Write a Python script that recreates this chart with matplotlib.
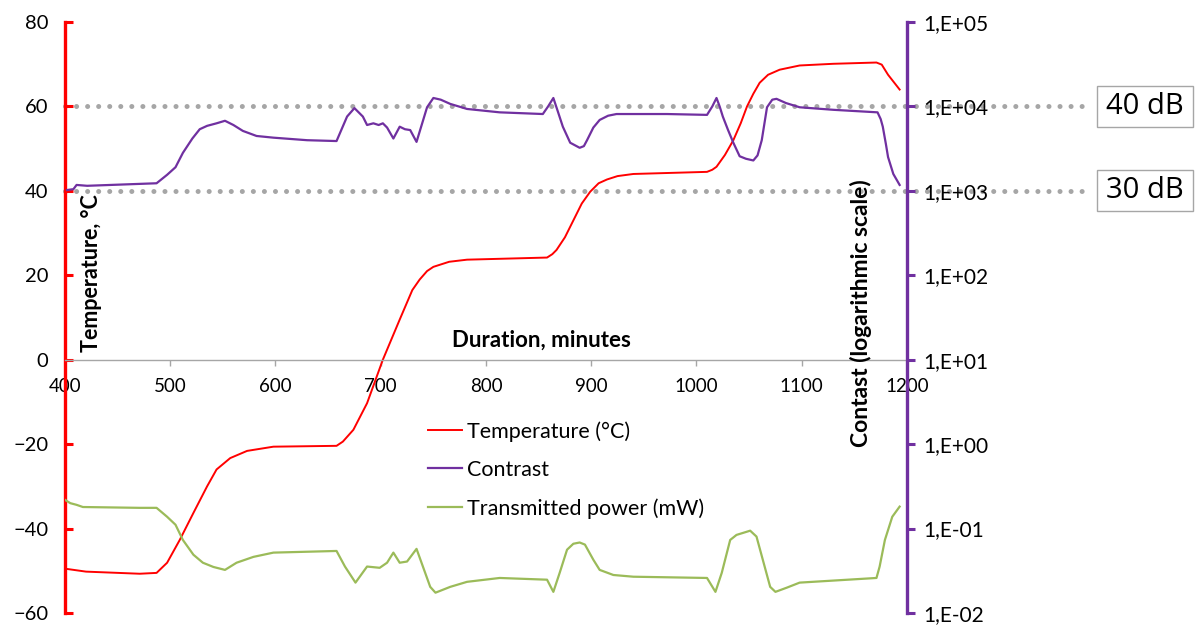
import numpy as np
import matplotlib
matplotlib.use("Agg")
import matplotlib.pyplot as plt
from matplotlib.patches import Rectangle
from matplotlib.ticker import FixedLocator, FuncFormatter

plt.rcParams['font.family'] = ['Lato', 'DejaVu Sans']

# temperature (left axis, °C)
temp_t = [400, 420, 471, 487, 497, 509, 522, 535, 544, 557, 573, 598, 658, 664,
          674, 687, 702, 718, 730, 737, 744, 750, 765, 782, 858, 863, 867, 875,
          883, 891, 899, 907, 915, 925, 940, 1010, 1015, 1019, 1027, 1035, 1042,
          1048, 1054, 1060, 1068, 1079, 1098, 1130, 1171, 1176, 1182, 1193]
temp_v = [-49.5, -50.2, -50.7, -50.5, -48.1, -42.7, -36.3, -30.0, -26.0, -23.3,
          -21.6, -20.6, -20.4, -19.4, -16.6, -10.3, 0.0, 9.5, 16.5, 19.0, 21.0,
          22.0, 23.2, 23.7, 24.2, 25.0, 26.0, 29.0, 33.0, 37.0, 39.8, 41.8, 42.7,
          43.5, 44.0, 44.5, 45.0, 45.7, 48.5, 52.0, 56.0, 60.0, 63.0, 65.6, 67.5,
          68.7, 69.7, 70.1, 70.4, 69.9, 67.5, 64.0]

# contrast (right axis, log)
con_t = [402, 408, 411, 421, 487, 497, 505, 512, 521, 528, 535, 544, 552, 560,
         569, 582, 598, 630, 658, 668, 675, 683, 687, 693, 698, 702, 706, 712,
         718, 723, 728, 734, 744, 750, 757, 766, 782, 813, 854, 859, 864, 868,
         873, 880, 889, 893, 896, 902, 908, 916, 924, 972, 1010, 1015, 1019,
         1022, 1025, 1030, 1035, 1041, 1047, 1054, 1058, 1062, 1067, 1072, 1076,
         1085, 1098, 1130, 1172, 1175, 1177, 1180, 1182, 1187, 1193]
con_v = [1023, 1047, 1175, 1148, 1230, 1549, 1905, 2818, 4169, 5370, 5888, 6310,
         6761, 6026, 5129, 4467, 4266, 3981, 3890, 7586, 9550, 7586, 6026, 6310,
         6026, 6310, 5623, 4169, 5754, 5370, 5248, 3802, 9772, 12589, 12023,
         10715, 9333, 8511, 8128, 10000, 12589, 8913, 5754, 3715, 3236, 3388,
         3981, 5623, 6918, 7762, 8128, 8128, 7943, 10000, 12589, 10000, 7586,
         5248, 3715, 2570, 2399, 2291, 2630, 3981, 9772, 12023, 12303, 10965,
         9772, 9120, 8511, 7079, 5754, 3548, 2512, 1585, 1175]

# transmitted power (mW, right axis)
pow_t = [400, 405, 411, 417, 471, 487, 497, 505, 512, 522, 531, 541, 552, 563,
         579, 598, 658, 666, 676, 687, 699, 706, 712, 718, 725, 734, 747, 752,
         766, 782, 813, 858, 864, 870, 877, 883, 889, 894, 902, 908, 921, 940,
         1010, 1018, 1024, 1032, 1038, 1051, 1057, 1063, 1070, 1075, 1086, 1098,
         1171, 1174, 1179, 1186, 1193]
pow_v = [0.219, 0.200, 0.191, 0.180, 0.176, 0.176, 0.138, 0.111, 0.0733, 0.049,
         0.0394, 0.0351, 0.0324, 0.0394, 0.0462, 0.0519, 0.0543, 0.0355, 0.0229,
         0.0355, 0.0343, 0.0394, 0.0519, 0.0394, 0.0407, 0.0575, 0.0204, 0.0174,
         0.0204, 0.0234, 0.0260, 0.0248, 0.0178, 0.0299, 0.0562, 0.0661, 0.0684,
         0.0646, 0.0427, 0.0324, 0.0282, 0.0269, 0.0260, 0.0178, 0.0299, 0.0733,
         0.0841, 0.0944, 0.0804, 0.0427, 0.0204, 0.0178, 0.0200, 0.0229, 0.0260,
         0.0355, 0.0733, 0.138, 0.182]

x_ticks = [400, 500, 600, 700, 800, 900, 1000, 1100, 1200]
left_ticks = [-60, -40, -20, 0, 20, 40, 60, 80]
right_ticks = [1e-2, 1e-1, 1e0, 1e1, 1e2, 1e3, 1e4, 1e5]
db_lines = [60, 40]
db_labels = ["40 dB", "30 dB"]

RED = "#FF0000"
PURPLE = "#7030A0"
GREEN = "#9BBB59"
GREY = "#A6A6A6"

fig = plt.figure(figsize=(11.95, 6.25), dpi=100)
ax = fig.add_axes([65 / 1195, 1 - 613 / 625, 842 / 1195, 591 / 625])
ax2 = ax.twinx()

l1, = ax.plot(temp_t, temp_v, color=RED, lw=1.4, label="Temperature (°C)")
l2, = ax2.plot(con_t, con_v, color=PURPLE, lw=1.6, label="Contrast")
l3, = ax2.plot(pow_t, pow_v, color=GREEN, lw=1.6, label="Transmitted power (mW)")

ax.set_xlim(400, 1200)
ax.set_ylim(-60, 80)
ax2.set_yscale("log")
ax2.set_ylim(1e-2, 1e5)

# dotted reference lines going past the right axis
for yv in db_lines:
    ax.axhline(yv, xmin=0, xmax=(1090 - 65) / 842, color=GREY, lw=3.6,
               linestyle=(0, (0.01, 2.2)), dash_capstyle="round", clip_on=False,
               zorder=0)

# spines
ax.spines["top"].set_visible(False)
ax2.spines["top"].set_visible(False)
ax2.spines["left"].set_visible(False)
ax2.spines["bottom"].set_visible(False)
ax.spines["right"].set_visible(False)
ax.spines["left"].set_color(RED)
ax.spines["left"].set_linewidth(2.4)
ax2.spines["right"].set_color(PURPLE)
ax2.spines["right"].set_linewidth(2.4)
ax.spines["bottom"].set_position(("data", 0))
ax.spines["bottom"].set_color(GREY)
ax.spines["bottom"].set_linewidth(1.0)

ax.set_xticks(x_ticks)
ax.set_yticks(left_ticks)
ax.tick_params(axis="x", direction="out", length=4, width=1, color=GREY,
               labelsize=13.5, pad=9)
ax.tick_params(axis="y", direction="in", length=6, width=2.2, color=RED,
               labelsize=14.5, pad=12)
ax2.yaxis.set_major_locator(FixedLocator(right_ticks))
ax2.yaxis.set_minor_locator(FixedLocator([]))
ax2.yaxis.set_major_formatter(
    FuncFormatter(lambda v, p: "1,E{:+03d}".format(int(round(np.log10(v))))))
ax2.tick_params(axis="y", direction="out", length=6, width=2.2, color=PURPLE,
                labelsize=15, pad=6)

ax.text(0.032, 0.575, "Temperature, °C", transform=ax.transAxes, rotation=90,
        ha="center", va="center", fontsize=15.5, fontweight="bold")
ax.text(853, 4.7, "Duration, minutes", ha="center", va="center", fontsize=16,
        fontweight="bold")
ax.text(0.945, 0.508, "Contast (logarithmic scale)", transform=ax.transAxes,
        rotation=90, ha="center", va="center", fontsize=16.5, fontweight="bold")

leg = ax.legend(handles=[l1, l2, l3], loc="upper left",
                bbox_to_anchor=(428 / 1195, 1 - 421 / 625),
                bbox_transform=fig.transFigure, frameon=False, fontsize=15.5,
                handlelength=1.6, handletextpad=0.2, labelspacing=0.85,
                borderpad=0, borderaxespad=0)

# dB boxes
for yv, lab in zip(db_lines, db_labels):
    ypix = ax.transData.transform((400, yv))[1]
    yf = ypix / fig.bbox.height
    w, h = 96 / 1195, 41 / 625
    fig.patches.append(Rectangle((1097 / 1195, yf - h / 2), w, h,
                                 transform=fig.transFigure, fill=False,
                                 edgecolor=GREY, lw=1.0))
    fig.text(1145 / 1195, yf, lab, ha="center", va="center", fontsize=21,
             family=["Open Sans", "DejaVu Sans"])

fig.savefig("out.png", dpi=100)
